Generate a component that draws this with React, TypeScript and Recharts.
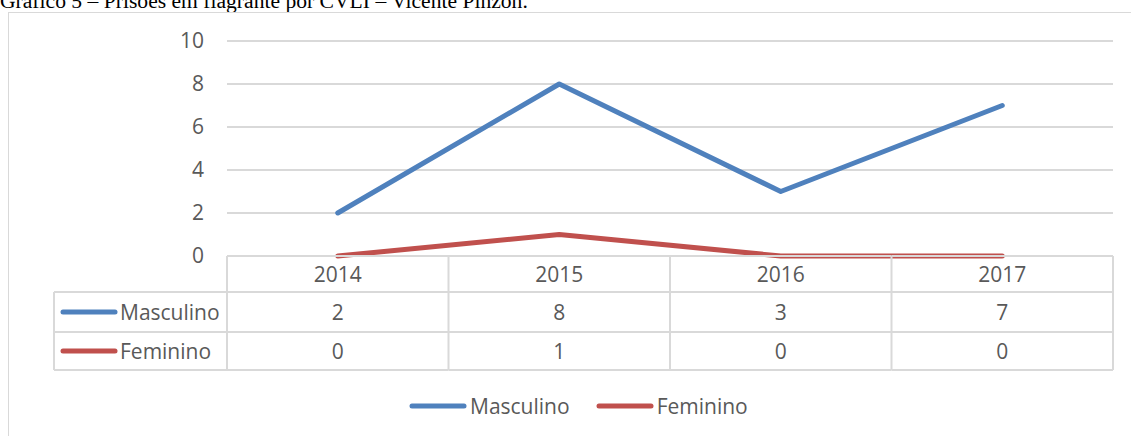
import React from 'react';
import { LineChart, Line, XAxis, YAxis, CartesianGrid, Legend } from 'recharts';

const years = ['2014', '2015', '2016', '2017'];
const masculino = [2, 8, 3, 7];
const feminino = [0, 1, 0, 0];
const yTicks = [0, 2, 4, 6, 8, 10];
const seriesNames = ['Masculino', 'Feminino'];
const seriesColors = ['#4f81bd', '#c0504d'];
const seriesValues = [masculino, feminino];
const title = 'Gráfico 5 – Prisões em flagrante por CVLI – Vicente Pinzón.';

const data = years.map((y, i) => ({
  year: y,
  [seriesNames[0]]: masculino[i],
  [seriesNames[1]]: feminino[i],
}));

// layout
const W = 1131;
const H = 436;
const Y_AXIS_W = 227;
const RIGHT = 18;
const TOP = 41;
const X_AXIS_H = 180;
const PLOT_W = W - Y_AXIS_W - RIGHT;
const COL_W = PLOT_W / years.length;
const ROW_LINES = [0, 36, 76, 114]; // offsets from plot bottom
const LABEL_LEFT = 54;
const FONT = "'Open Sans', 'Liberation Sans', sans-serif";
const TEXT = '#595959';
const GRID = '#d9d9d9';

const TableTick = (props: any) => {
  const { x, y, payload } = props;
  const i = payload.index;
  const half = COL_W / 2;
  const l = x - half;
  const r = x + half;
  const rowY = ROW_LINES.map((o) => y + o);
  const els: any[] = [];
  els.push(<line key="vr" x1={r} x2={r} y1={rowY[0]} y2={rowY[3]} stroke={GRID} strokeWidth={2} />);
  if (i === 0) {
    els.push(<line key="vl" x1={l} x2={l} y1={rowY[0]} y2={rowY[3]} stroke={GRID} strokeWidth={2} />);
  }
  rowY.forEach((ry, k) => {
    els.push(<line key={'h' + k} x1={l} x2={r} y1={ry} y2={ry} stroke={GRID} strokeWidth={2} />);
  });
  els.push(
    <text key="yr" x={x} y={(rowY[0] + rowY[1]) / 2} dy="0.36em" textAnchor="middle" fill={TEXT} fontSize={21} fontFamily={FONT}>
      {payload.value}
    </text>
  );
  seriesValues.forEach((vals, s) => {
    const cy = (rowY[s + 1] + rowY[s + 2]) / 2;
    els.push(
      <text key={'v' + s} x={x} y={cy} dy="0.36em" textAnchor="middle" fill={TEXT} fontSize={21} fontFamily={FONT}>
        {vals[i]}
      </text>
    );
  });
  if (i === 0) {
    els.push(<line key="ll" x1={LABEL_LEFT} x2={LABEL_LEFT} y1={rowY[1]} y2={rowY[3]} stroke={GRID} strokeWidth={2} />);
    [1, 2, 3].forEach((k) => {
      els.push(<line key={'lh' + k} x1={LABEL_LEFT} x2={l} y1={rowY[k]} y2={rowY[k]} stroke={GRID} strokeWidth={2} />);
    });
    seriesNames.forEach((name, s) => {
      const cy = (rowY[s + 1] + rowY[s + 2]) / 2;
      els.push(
        <line key={'k' + s} x1={LABEL_LEFT + 9} x2={LABEL_LEFT + 61} y1={cy} y2={cy} stroke={seriesColors[s]} strokeWidth={5} strokeLinecap="round" />
      );
      els.push(
        <text key={'n' + s} x={LABEL_LEFT + 66} y={cy} dy="0.36em" textAnchor="start" fill={TEXT} fontSize={21} fontFamily={FONT}>
          {name}
        </text>
      );
    });
  }
  return <g>{els}</g>;
};

const LegendContent = (props: any) => {
  const items = [...(props.payload || [])].sort(
    (a: any, b: any) => seriesNames.indexOf(a.value) - seriesNames.indexOf(b.value)
  );
  return (
    <div style={{ display: 'flex', alignItems: 'center', fontFamily: FONT, fontSize: 21, color: TEXT, lineHeight: '28px' }}>
      {items.map((p: any, idx: number) => (
        <div key={idx} style={{ display: 'flex', alignItems: 'center', marginRight: 26 }}>
          <svg width={58} height={10} style={{ marginRight: 3 }}>
            <line x1={3} x2={55} y1={5} y2={5} stroke={p.color} strokeWidth={5} strokeLinecap="round" />
          </svg>
          <span>{p.value}</span>
        </div>
      ))}
    </div>
  );
};

export default function App() {
  return (
    <div style={{ position: 'absolute', left: 0, top: 0, width: W, height: H, overflow: 'hidden', background: '#fff' }}>
      <svg width={W} height={20} style={{ position: 'absolute', left: 0, top: 0 }}>
        <text x={0} y={8} fontFamily="'Liberation Serif', 'Times New Roman', serif" fontSize={21.6} fill="#000">
          {title}
        </text>
      </svg>
      <div style={{ position: 'absolute', left: 8, top: 12, width: W + 50, height: H + 50, border: `1.5px solid ${GRID}` }} />
      <div style={{ position: 'absolute', left: 0, top: 0 }}>
        <LineChart width={W} height={H} data={data} margin={{ top: TOP, right: RIGHT, left: 0, bottom: 0 }}>
          <CartesianGrid vertical={false} stroke={GRID} strokeWidth={2} />
          <XAxis
            dataKey="year"
            height={X_AXIS_H}
            axisLine={false}
            tickLine={false}
            tickSize={0}
            tickMargin={0}
            interval={0}
            padding={{ left: COL_W / 2, right: COL_W / 2 }}
            tick={<TableTick />}
          />
          <YAxis
            width={Y_AXIS_W}
            domain={[0, 10]}
            ticks={yTicks}
            axisLine={false}
            tickLine={false}
            tickSize={0}
            tickMargin={23}
            tick={{ fill: TEXT, fontSize: 21, fontFamily: FONT }}
          />
          <Legend
            layout="horizontal"
            verticalAlign="middle"
            align="center"
            itemSorter={null as any}
            wrapperStyle={{ left: 409, top: 392, width: 'auto' }}
            content={<LegendContent />}
          />
          {seriesNames.map((name, s) => (
            <Line
              key={name}
              type="linear"
              dataKey={name}
              stroke={seriesColors[s]}
              strokeWidth={5}
              strokeLinecap="round"
              strokeLinejoin="round"
              dot={false}
              activeDot={false}
              isAnimationActive={false}
            />
          ))}
        </LineChart>
      </div>
    </div>
  );
}
